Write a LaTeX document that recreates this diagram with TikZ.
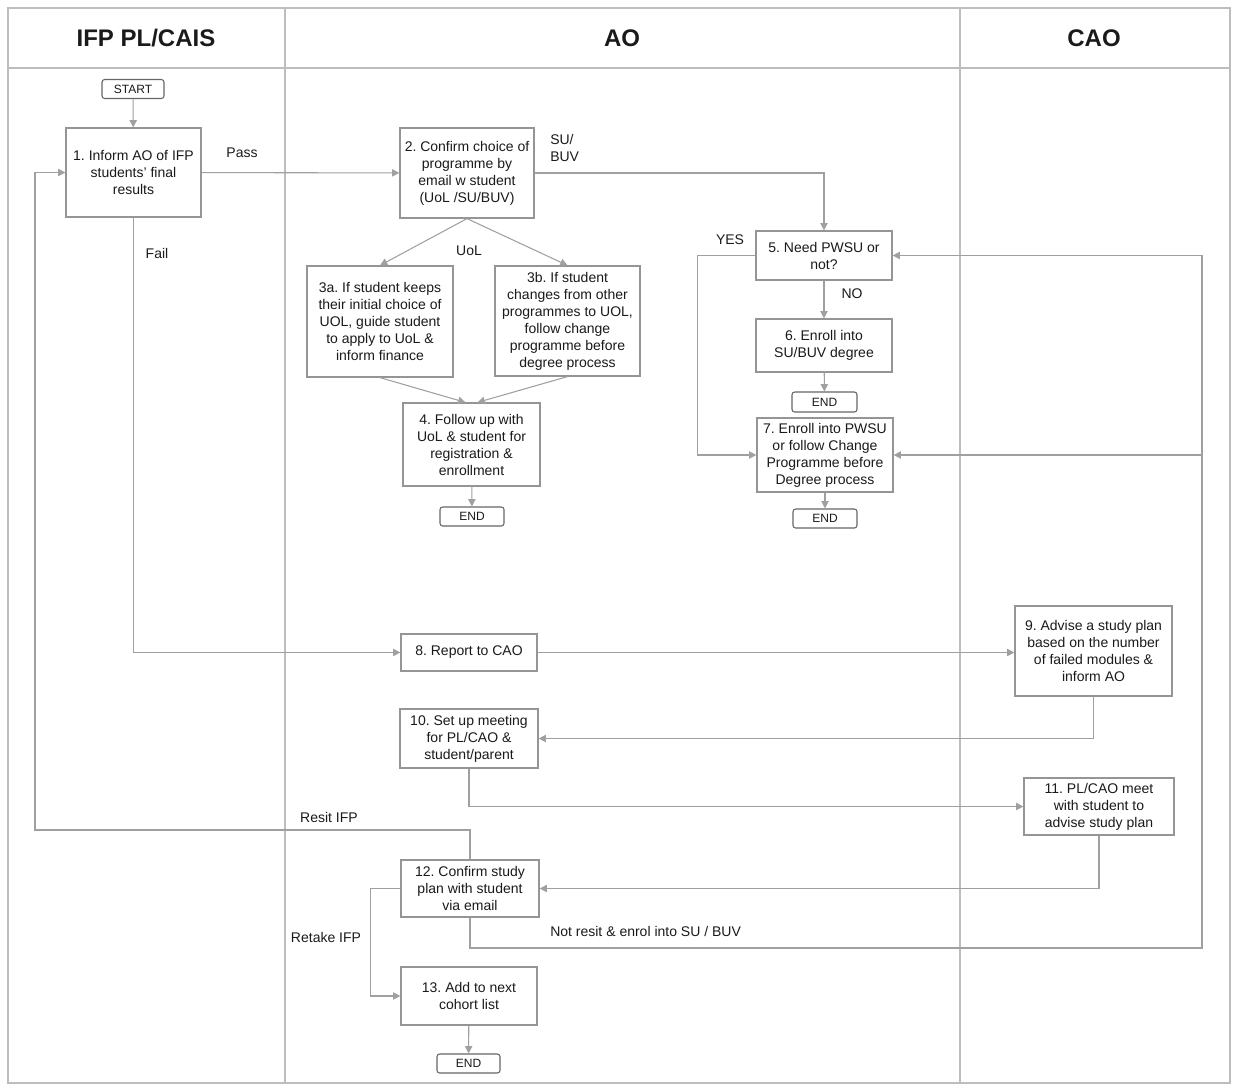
\documentclass[tikz,border=0pt]{standalone}
\usepackage{fontspec}
\setmainfont{Liberation Sans}
\usetikzlibrary{arrows.meta,calc}
\definecolor{boxgray}{HTML}{959595}
\definecolor{linegray}{HTML}{A0A0A0}
\definecolor{termgray}{HTML}{666666}
\definecolor{framegray}{HTML}{BDBDBD}
\definecolor{txt}{HTML}{1A1A1A}
\frenchspacing
\tikzset{
  box/.style={draw=boxgray, line width=0.9pt, fill=white, align=center, text=txt,
    font=\fontsize{10.5}{12.75}\selectfont, inner sep=2pt},
  term/.style={draw=termgray, rounded corners=2pt, line width=0.8pt, fill=white, text=txt,
    font=\fontsize{9}{11}\selectfont, inner sep=0pt},
  arr/.style={draw=linegray, line width=0.8pt, -{Triangle[length=5.5pt,width=5.5pt]}},
  lbl/.style={font=\fontsize{10.5}{12.75}\selectfont, align=left, text=txt, inner sep=0pt},
  lane/.style={draw=framegray, line width=0.8pt},
  hdr/.style={font=\bfseries\fontsize{18}{22}\selectfont, text=txt}
}
\begin{document}
\begin{tikzpicture}[x=0.75pt, y=-0.75pt]
\useasboundingbox (0,0) rectangle (1235,1086);
% swimlane frame
\draw[lane] (8,8) rectangle (1230,1083);
\draw[lane] (8,68) -- (1230,68);
\draw[lane] (285,8) -- (285,1083);
\draw[lane] (960,8) -- (960,1083);
\node[hdr] (h1) at (146,38) {IFP PL/CAIS};
\node[hdr] (h2) at (622,38) {AO};
\node[hdr] (h3) at (1094,38) {CAO};

% nodes
\node[term, minimum width=46.5pt, minimum height=14.25pt] (start) at (133,89) {START};
\node[box, minimum width=101.25pt, minimum height=66.75pt] (n1) at (133.5,172.5)
  {1. Inform AO of IFP\\students’ final\\results};
\node[box, minimum width=100.5pt, minimum height=67.5pt] (n2) at (467,173)
  {2. Confirm choice of\\programme by\\email w student\\(UoL /SU/BUV)};
\node[box, minimum width=109.5pt, minimum height=83.25pt] (n3a) at (380,321.5)
  {3a. If student keeps\\their initial choice of\\UOL, guide student\\to apply to UoL \&\\inform finance};
\node[box, minimum width=108.75pt, minimum height=82.5pt] (n3b) at (567.5,321)
  {3b. If student\\changes from other\\programmes to UOL,\\follow change\\programme before\\degree process};
\node[box, minimum width=102.75pt, minimum height=62.25pt] (n4) at (471.5,444.5)
  {4. Follow up with\\UoL \& student for\\registration \&\\enrollment};
\node[term, minimum width=48pt, minimum height=14.25pt] (e4) at (472,516.5) {END};
\node[box, minimum width=102pt, minimum height=36.75pt] (n5) at (824,255.5)
  {5. Need PWSU or\\not?};
\node[box, minimum width=102pt, minimum height=39.75pt] (n6) at (824,345.5)
  {6. Enroll into\\SU/BUV degree};
\node[term, minimum width=48.75pt, minimum height=15pt] (e6) at (824.5,402) {END};
\node[box, minimum width=102pt, minimum height=55.5pt] (n7) at (825,455)
  {7. Enroll into PWSU\\or follow Change\\Programme before\\Degree process};
\node[term, minimum width=48pt, minimum height=14.25pt] (e7) at (825,518.5) {END};
\node[box, minimum width=102pt, minimum height=27.75pt] (n8) at (469,652.5)
  {8. Report to CAO};
\node[box, minimum width=117.75pt, minimum height=67.5pt] (n9) at (1093.5,651)
  {9. Advise a study plan\\based on the number\\of failed modules \&\\inform AO};
\node[box, minimum width=103.5pt, minimum height=44.25pt] (n10) at (469,738.5)
  {10. Set up meeting\\for PL/CAO \&\\student/parent};
\node[box, minimum width=112.5pt, minimum height=42.75pt] (n11) at (1099,806.5)
  {11. PL/CAO meet\\with student to\\advise study plan};
\node[box, minimum width=103.5pt, minimum height=42.75pt] (n12) at (470,888.5)
  {12. Confirm study\\plan with student\\via email};
\node[box, minimum width=102pt, minimum height=43.5pt] (n13) at (469,996)
  {13. Add to next\\cohort list};
\node[term, minimum width=47.25pt, minimum height=14.25pt] (e13) at (468.5,1063.5) {END};

% labels
\node[lbl] (lpass) at (242,153) {Pass};
\node[lbl, anchor=west] (lsu) at (550,148) {SU/\\BUV};
\node[lbl] (luol) at (469,251) {UoL};
\node[lbl] (lfail) at (157,253) {Fail};
\node[lbl] (lyes) at (730,240) {YES};
\node[lbl] (lno) at (852,294) {NO};
\node[lbl] (lresit) at (329,817) {Resit IFP};
\node[lbl] (lretake) at (326,937) {Retake IFP};
\node[lbl, anchor=west] (lnot) at (550,931) {Not resit \& enrol into SU / BUV};

% helper coordinates
\coordinate (resitc) at (35,830);
\coordinate (notc) at (1202,948);

% connectors
\draw[arr] (start) -- (n1);
\draw[arr] (n1) -- (n2);
\draw[arr] (n2.east) -| (n5.north);
\draw[arr] (n2.south) -- (n3a.north);
\draw[arr] (n2.south) -- (n3b.north);
\draw[arr] (n3a.south) -- ($(n4.north)+(-6,0)$);
\draw[arr] (n3b.south) -- ($(n4.north)+(6,0)$);
\draw[arr] (n4) -- (e4);
\draw[arr] (n5) -- (n6);
\draw[arr] (n6) -- (e6);
\draw[arr] (n5.west) -- ++(-58,0) |- (n7.west);
\draw[arr] (n7) -- (e7);
\draw[arr] (n1.south) |- (n8.west);
\draw[arr] (n8.east) -- (n8.east -| n9.west);
\draw[arr] (n9.south) |- (n10.east);
\draw[arr] (n10.south) |- (n11.west);
\draw[arr] (n11.south) |- (n12.east);
\draw[arr] (n12.north) |- (resitc) |- (n1.west);
\draw[arr] (n12.west) -- ++(-30,0) |- (n13.west);
\draw[arr] (n13) -- (e13);
\draw[arr] (n12.south) |- (notc) |- (n5.east);
\draw[arr] (notc) |- (n7.east);
\end{tikzpicture}
\end{document}
